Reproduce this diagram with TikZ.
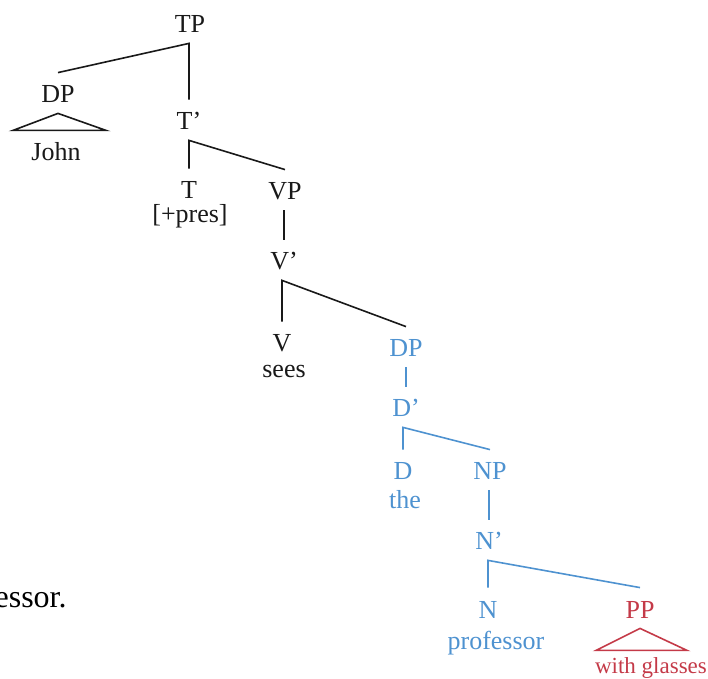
\documentclass[tikz,border=0pt]{standalone}
\usepackage{fontspec}
\setmainfont{Liberation Serif}
\usetikzlibrary{positioning}
\definecolor{ink}{RGB}{25,25,25}
\definecolor{npblue}{RGB}{78,146,208}
\definecolor{ppred}{RGB}{196,58,72}
\tikzset{
  cat/.style    ={anchor=base, inner sep=0pt, text height=15pt, text depth=5pt,
                  font=\fontsize{13}{15}\selectfont, color=ink},
  word/.style   ={anchor=base, inner sep=0pt, font=\fontsize{13}{15}\selectfont, color=ink},
  bluecat/.style={cat, color=npblue},
  blueword/.style={word, color=npblue},
  branch/.style ={line width=0.8pt, color=ink},
  bluebranch/.style={branch, color=npblue},
  roof/.style   ={line width=0.8pt, color=ink, line join=miter},
}

\begin{document}
\begin{tikzpicture}[x=0.5pt, y=-0.5pt]
\useasboundingbox (0,0) rectangle (708,679);
% cut-off sentence at the left edge
\node[anchor=base east, inner sep=0pt, font=\fontsize{16}{19}\selectfont] (sent) at (67,608) {essor.};
% upper tree
\node[cat] (tp) at (190,33) {TP};
\node[cat] (subj) at (58,103) {DP};
\node[word] (john) at (56,161) {John};
\node[cat] (tbar) at (189,130) {T'};
\node[cat] (t) at (189,199) {T};
\node[word] (pres) at (190,223) {[+pres]};
\node[cat] (vp) at (285,200) {VP};
\node[cat] (vbar) at (284,270) {V'};
\node[cat] (v) at (282,352) {V};
\node[word] (sees) at (284,378) {sees};
% object DP
\node[bluecat] (obj) at (406,357) {DP};
\node[bluecat] (dbar) at (406,417) {D'};
\node[bluecat] (d) at (403,480) {D};
\node[blueword] (the) at (405,509) {the};
\node[bluecat] (np) at (490,480) {NP};
\node[bluecat] (nbar) at (489,550) {N'};
\node[bluecat] (n) at (488,618) {N};
\node[blueword] (prof) at (496,650) {professor};
\node[cat, color=ppred] (pp) at (640,618) {PP};
\node[word, color=ppred, font=\fontsize{11.5}{14}\selectfont] (glass) at (651,674) {with glasses};

\draw[branch] (subj.north) -- (tbar.north |- tp.south) -- (tbar.north);
\draw[roof] (subj.south) -- ++(-45,17) -- ++(93,0) -- cycle;
\draw[branch] (t.north) -- (t.north |- tbar.south) -- (vp.north);
\draw[branch] (vbar.north |- vp.south) -- (vbar.north);
\draw[branch] (v.north) -- (v.north |- vbar.south) -- (obj.north);
\draw[bluebranch] (obj.south) -- (dbar.north);
\draw[bluebranch] (d.north) -- (d.north |- dbar.south) -- (np.north);
\draw[bluebranch] (nbar.north |- np.south) -- (nbar.north);
\draw[bluebranch] (n.north) -- (n.north |- nbar.south) -- (pp.north);
\draw[roof, color=ppred] (pp.south) -- ++(-44,22) -- ++(91,0) -- cycle;
\end{tikzpicture}
\end{document}
